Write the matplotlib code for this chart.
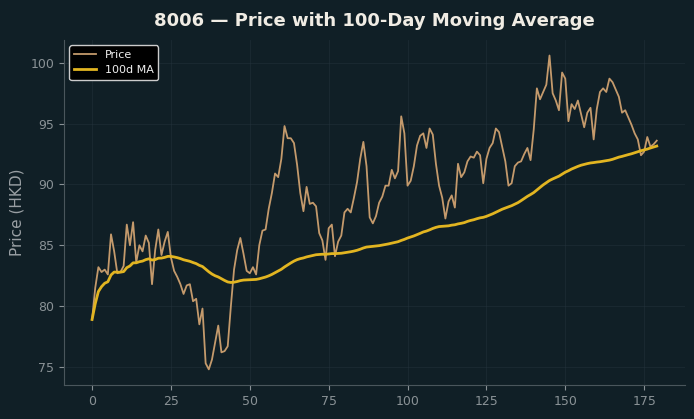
import numpy as np
import pandas as pd
from matplotlib import pyplot as plt

ticker = '8006'

price = [
    78.9, 81.5, 83.2, 82.8, 83.0, 82.6, 85.9, 84.5, 82.7, 82.8,
    83.3, 86.7, 85.0, 86.9, 83.6, 85.0, 84.5, 85.8, 85.2, 81.8,
    84.6, 86.3, 84.2, 85.3, 86.1, 84.0, 82.9, 82.4, 81.8, 81.0,
    81.7, 81.8, 80.4, 80.6, 78.5, 79.8, 75.3, 74.8, 75.6, 77.0,
    78.4, 76.2, 76.3, 76.7, 80.0, 83.0, 84.6, 85.6, 84.3, 82.9,
    82.7, 83.2, 82.6, 85.0, 86.2, 86.3, 88.0, 89.3, 90.9, 90.6,
    92.1, 94.8, 93.8, 93.8, 93.4, 91.6, 89.3, 87.8, 89.8, 88.4,
    88.5, 88.2, 86.0, 85.4, 83.8, 86.4, 86.7, 84.1, 85.3, 85.8,
    87.7, 88.0, 87.7, 88.9, 90.2, 92.1, 93.5, 91.5, 87.3, 86.8,
    87.4, 88.5, 89.0, 89.9, 89.9, 91.2, 90.5, 91.1, 95.6, 94.2,
    89.9, 90.3, 91.5, 93.2, 94.0, 94.2, 93.0, 94.6, 94.1, 91.7,
    89.9, 88.9, 87.2, 88.6, 89.1, 88.1, 91.7, 90.6, 91.0, 91.9,
    92.3, 92.2, 92.7, 92.4, 90.1, 92.1, 93.0, 93.4, 94.6, 94.3,
    93.1, 91.9, 89.9, 90.1, 91.5, 91.8, 91.9, 92.5, 93.0, 92.0,
    94.5, 97.9, 97.0, 97.6, 98.2, 100.6, 97.5, 96.9, 96.1, 99.2,
    98.7, 95.2, 96.6, 96.2, 96.9, 95.8, 94.7, 95.9, 96.3, 93.7,
    96.2, 97.6, 97.9, 97.6, 98.7, 98.4, 97.8, 97.2, 95.9, 96.1,
    95.5, 94.9, 94.2, 93.7, 92.4, 92.7, 93.9, 93.1, 93.3, 93.6,
]

close = pd.Series(price)
ma_100 = close.rolling(100, min_periods=1).mean()

bg = '#101f26'
fig = plt.figure(figsize=(6.94, 4.19), dpi=100, facecolor=bg)
ax = fig.add_axes([0.092, 0.081, 0.895, 0.824])
ax.set_facecolor(bg)

ax.plot(close.index, close, color='#c49a6c', linewidth=1.3, label='Price')
ax.plot(ma_100.index, ma_100, color='#e2b521', linewidth=2.0, label='100d MA')

ax.set_title(f'{ticker} — Price with 100-Day Moving Average',
             color='#f0ece4', fontsize=13, fontweight='bold', pad=10)
ax.set_ylabel('Price (HKD)', color='#9aa0a4', fontsize=11)

ax.grid(True, color='#263640', linewidth=0.6, alpha=0.5)
for side in ['top', 'right']:
    ax.spines[side].set_visible(False)
for side in ['left', 'bottom']:
    ax.spines[side].set_color('#4a565c')
ax.tick_params(colors='#8a9296', labelsize=9)

legend = ax.legend(loc='upper left', fontsize=8, facecolor='black',
                   edgecolor='#cccccc', framealpha=1.0)
for text in legend.get_texts():
    text.set_color('#f0f0f0')

fig.savefig('out.png', facecolor=bg)
